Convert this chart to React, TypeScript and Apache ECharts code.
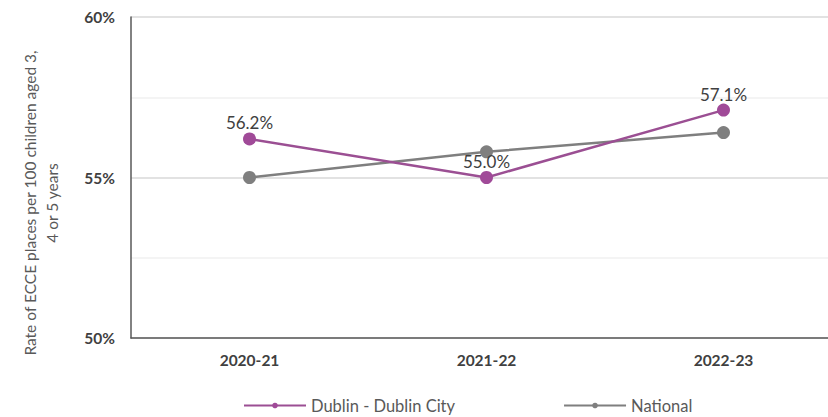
import React, { useEffect, useRef } from "react";
import * as echarts from "echarts";

const categories = ["2020-21", "2021-22", "2022-23"];
const dublinValues = [56.2, 55.0, 57.1];
const nationalValues = [55.0, 55.8, 56.4];
const seriesNames = ["Dublin - Dublin City", "National"];
const yTitleLines = ["Rate of ECCE places per 100 children aged 3,", "4 or 5 years"];

const FONT = "Lato, 'Open Sans', sans-serif";

export default function App() {
  const ref = useRef<HTMLDivElement>(null);
  useEffect(() => {
    if (!ref.current) return;
    const chart = echarts.init(ref.current, undefined, { renderer: "svg" });
    chart.setOption({
      animation: false,
      textStyle: { fontFamily: FONT },
      grid: { left: 131, right: 0, top: 17, bottom: 79 },
      legend: {
        left: 238,
        top: 392,
        itemWidth: 62,
        itemHeight: 7,
        itemGap: 108,
        textStyle: { fontFamily: FONT, fontSize: 16.5, color: "#595959" },
        data: seriesNames,
      },
      graphic: [
        {
          type: "text",
          x: 41,
          y: 203,
          rotation: Math.PI / 2,
          style: {
            text: yTitleLines.join("\n"),
            fontFamily: FONT,
            fontSize: 15.5,
            lineHeight: 22,
            fill: "#595959",
            textAlign: "center",
            textVerticalAlign: "middle",
          },
        },
      ],
      xAxis: {
        type: "category",
        data: categories,
        boundaryGap: true,
        axisLine: { show: true, lineStyle: { color: "#595959", width: 1.5 } },
        axisTick: { show: false },
        axisLabel: { margin: 14, fontFamily: FONT, fontSize: 15.5, fontWeight: "bold", color: "#404040" },
        splitLine: { show: false },
      },
      yAxis: {
        type: "value",
        min: 50,
        max: 60,
        interval: 2.5,
        axisLine: { show: true, lineStyle: { color: "#595959", width: 1.5 } },
        axisTick: { show: false },
        axisLabel: {
          margin: 16,
          fontFamily: FONT,
          fontSize: 15.5,
          fontWeight: "bold",
          color: "#404040",
          formatter: (v: number) => (v % 5 === 0 ? v + "%" : ""),
        },
        splitLine: { show: true, lineStyle: { color: ["#d9d9d9", "#f0f0f0"], width: 1.5 } },
      },
      series: [
        {
          name: seriesNames[0],
          type: "line",
          data: dublinValues,
          symbol: "circle",
          symbolSize: 13,
          itemStyle: { color: "#A04A98" },
          lineStyle: { color: "#9B4F93", width: 2.5 },
          z: 3,
          label: {
            show: true,
            position: "top",
            distance: 1,
            fontFamily: FONT,
            fontSize: 17,
            color: "#404040",
            formatter: (p: any) => Number(p.value).toFixed(1) + "%",
          },
        },
        {
          name: seriesNames[1],
          type: "line",
          data: nationalValues,
          symbol: "circle",
          symbolSize: 13,
          itemStyle: { color: "#7F7F7F" },
          lineStyle: { color: "#7F7F7F", width: 2.5 },
          z: 2,
          label: { show: false },
        },
      ],
    });
    return () => chart.dispose();
  }, []);
  return (
    <div style={{ position: "absolute", left: 0, top: 0, width: 828, height: 417, overflow: "hidden", background: "#fff" }}>
      <div ref={ref} style={{ width: 842, height: 417 }} />
    </div>
  );
}
